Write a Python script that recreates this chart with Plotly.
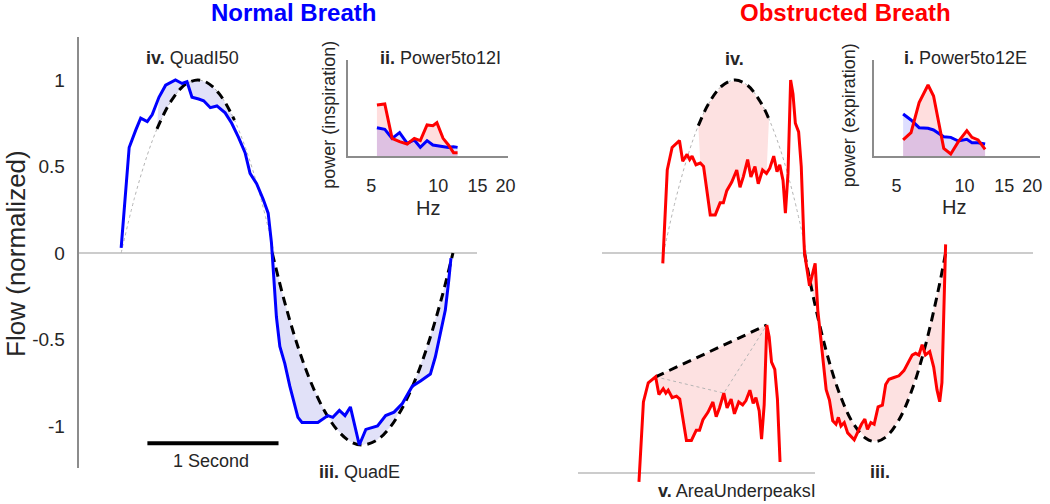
import plotly.graph_objects as go

# ---- normal breath: time (s) and normalized flow ----
normal_t = [0.000, 0.036, 0.061, 0.111, 0.149, 0.199, 0.237, 0.288, 0.339, 0.414, 0.464, 0.502,
            0.540, 0.591, 0.629, 0.680, 0.730, 0.793, 0.843, 0.894, 0.945, 0.983, 1.033, 1.083,
            1.121, 1.146, 1.152, 1.167, 1.184, 1.210, 1.248, 1.286, 1.318, 1.348, 1.379, 1.424,
            1.500, 1.576, 1.614, 1.664, 1.707, 1.748, 1.778, 1.816, 1.866, 1.955, 2.017, 2.081,
            2.144, 2.220, 2.283, 2.358, 2.396, 2.434, 2.472, 2.498, 2.515]
normal_flow = [0.03, 0.38, 0.61, 0.71, 0.78, 0.76, 0.80, 0.90, 0.97, 1.00, 0.98, 0.99,
               0.90, 0.89, 0.88, 0.84, 0.85, 0.81, 0.75, 0.67, 0.58, 0.46, 0.40, 0.31,
               0.23, 0.06, 0.00, -0.175, -0.37, -0.54, -0.64, -0.77, -0.87, -0.95, -0.98, -0.98,
               -0.98, -0.94, -0.95, -0.91, -0.94, -0.89, -0.98, -1.11, -1.02, -1.00, -0.94, -0.92,
               -0.87, -0.77, -0.74, -0.70, -0.60, -0.46, -0.33, -0.16, -0.03]

# quadratic fits
normal_insp_fit_t = [0.0, 0.1, 0.2, 0.273, 0.35, 0.4, 0.45, 0.5, 0.583, 0.65, 0.7, 0.75, 0.8, 0.864, 0.95, 1.05, 1.167]
normal_insp_fit = [0.0, 0.314, 0.568, 0.717, 0.840, 0.90, 0.948, 0.98, 1.0, 0.987, 0.96, 0.918, 0.861, 0.768, 0.604, 0.358, 0.0]
normal_insp_dash = (0.273, 0.864)
normal_exp_fit_t = [1.152, 1.25, 1.35, 1.45, 1.55, 1.65, 1.75, 1.841, 1.95, 2.05, 2.15, 2.25, 2.35, 2.45, 2.53]
normal_exp_fit = [0.0, -0.293, -0.546, -0.753, -0.912, -1.025, -1.091, -1.11, -1.082, -1.008, -0.887, -0.719, -0.504, -0.243, 0.0]

# ---- obstructed breath ----
obstructed_t = [0.002, 0.017, 0.036, 0.073, 0.111, 0.129, 0.154, 0.187, 0.207, 0.225, 0.255, 0.288,
                0.313, 0.339, 0.364, 0.402, 0.439, 0.464, 0.490, 0.528, 0.566, 0.591, 0.616, 0.649,
                0.674, 0.705, 0.730, 0.763, 0.793, 0.818, 0.848, 0.873, 0.894, 0.919, 0.937, 0.957,
                0.977, 0.995, 1.013, 1.038, 1.058, 1.078, 1.083, 1.121, 1.164, 1.184, 1.201, 1.222,
                1.248, 1.273, 1.298, 1.323, 1.341, 1.361, 1.386, 1.412, 1.462, 1.492, 1.517, 1.543,
                1.563, 1.589, 1.614, 1.644, 1.677, 1.702, 1.727, 1.765, 1.803, 1.841, 1.879, 1.904,
                1.930, 1.955, 1.980, 2.005, 2.038, 2.068, 2.093, 2.114, 2.131, 2.144, 2.152, 2.159]
obstructed_flow = [-0.06, 0.21, 0.48, 0.61, 0.64, 0.65, 0.53, 0.57, 0.54, 0.56, 0.51, 0.52,
                   0.50, 0.36, 0.22, 0.22, 0.29, 0.29, 0.36, 0.41, 0.48, 0.38, 0.44, 0.54,
                   0.44, 0.50, 0.40, 0.48, 0.46, 0.49, 0.56, 0.47, 0.51, 0.42, 0.23, 0.46,
                   1.00, 0.92, 0.75, 0.70, 0.50, 0.075, 0.00, -0.19, -0.06, -0.33, -0.45, -0.60,
                   -0.79, -0.85, -0.97, -0.99, -0.95, -1.00, -0.98, -1.04, -1.08, -1.03, -0.99, -0.96,
                   -1.02, -0.98, -0.99, -0.89, -0.88, -0.76, -0.73, -0.72, -0.71, -0.68, -0.63, -0.59,
                   -0.58, -0.59, -0.53, -0.59, -0.57, -0.66, -0.79, -0.86, -0.75, -0.41, -0.21, 0.05]
obstructed_insp_end = 1.08

obs_insp_fit_t = [0.008, 0.1, 0.2, 0.273, 0.35, 0.45, 0.553, 0.65, 0.75, 0.812, 0.9, 1.0, 1.098]
obs_insp_fit = [0.0, 0.309, 0.580, 0.736, 0.861, 0.964, 1.0, 0.968, 0.869, 0.774, 0.595, 0.327, 0.0]
obs_insp_dash = (0.273, 0.812)
obs_exp_fit_t = [1.083, 1.15, 1.25, 1.35, 1.45, 1.55, 1.621, 1.7, 1.8, 1.9, 2.0, 2.1, 2.159]
obs_exp_fit = [0.0, -0.255, -0.571, -0.813, -0.980, -1.071, -1.09, -1.066, -0.969, -0.797, -0.549, -0.226, 0.0]

# peaks used for AreaUnderpeaksI
peak_t = [0.129, 0.977]
peak_flow = [0.65, 1.00]
hull_t = [0.129, 0.649, 0.977]
hull_flow = [0.65, 0.54, 1.00]

# ---- power spectra ----
freq_insp = [5.3, 5.75, 6.2, 6.7, 7.25, 7.8, 8.3, 8.9, 9.45, 9.85, 10.5, 11.1, 11.7, 12.2]
pow_insp_normal = [0.295, 0.278, 0.184, 0.243, 0.132, 0.167, 0.090, 0.160, 0.115, 0.108, 0.097, 0.090, 0.097, 0.090]
pow_insp_obstructed = [0.531, 0.542, 0.184, 0.149, 0.125, 0.184, 0.160, 0.323, 0.316, 0.347, 0.184, 0.115, 0.035, 0.035]
freq_exp = [5.35, 5.8, 6.3, 6.9, 7.3, 8.1, 8.7, 9.4, 10.25, 10.8, 11.5, 12.35]
pow_exp_normal = [0.438, 0.375, 0.295, 0.288, 0.271, 0.201, 0.194, 0.156, 0.174, 0.139, 0.139, 0.125]
pow_exp_obstructed = [0.167, 0.243, 0.556, 0.740, 0.625, 0.080, 0.021, 0.149, 0.264, 0.194, 0.167, 0.069]
hz_ticks = [5, 10, 15, 20]

scalebar_start = 0.2
scalebar_len = 1.0
scalebar_flow = -1.10

BLUE = "#0000ff"
RED = "#ff0000"
BLUE_FILL = "#e1e1f8"
RED_FILL = "#fde1e1"
TXT = "#262626"
FONT = "Liberation Sans"
W, H = 1050, 504


def px(x):
    return x / W


def py(y):
    return (H - y) / H


def within(t, v, t0, t1):
    pts = [(a, b) for a, b in zip(t, v) if t0 <= a <= t1]
    return [p[0] for p in pts], [p[1] for p in pts]


def band(t, v, fit_t, fit_v, t0, t1):
    xs, ys = within(t, v, t0, t1)
    fx, fy = within(fit_t, fit_v, t0, t1)
    return xs + fx[::-1], ys + fy[::-1]


fig = go.Figure()


def line(x, y, color, width, axes, dash=None, shape="linear"):
    fig.add_trace(go.Scatter(x=x, y=y, mode="lines", xaxis=axes[0], yaxis=axes[1],
                             line=dict(color=color, width=width, dash=dash, shape=shape),
                             hoverinfo="skip"))


def area(x, y, color, axes, fill="toself"):
    fig.add_trace(go.Scatter(x=x, y=y, mode="lines", fill=fill, fillcolor=color,
                             xaxis=axes[0], yaxis=axes[1], line=dict(width=0),
                             hoverinfo="skip"))


DASH = "9px,6px"

# normal breath panel
ax1 = ("x", "y")
bx, by = band(normal_t, normal_flow, normal_insp_fit_t, normal_insp_fit, *normal_insp_dash)
area(bx, by, BLUE_FILL, ax1)
bx, by = band(normal_t, normal_flow, normal_exp_fit_t, normal_exp_fit, normal_exp_fit_t[0], normal_exp_fit_t[-1])
area(bx, by, BLUE_FILL, ax1)
line(normal_insp_fit_t, normal_insp_fit, "#b4b4b4", 1, ax1, dash="dot", shape="spline")
dx, dy = within(normal_insp_fit_t, normal_insp_fit, *normal_insp_dash)
line(dx, dy, "black", 3, ax1, dash=DASH, shape="spline")
line(normal_exp_fit_t, normal_exp_fit, "black", 3, ax1, dash=DASH, shape="spline")
line(normal_t, normal_flow, BLUE, 3, ax1)
line([scalebar_start, scalebar_start + scalebar_len], [scalebar_flow, scalebar_flow], "black", 4, ax1)

# obstructed breath panel
ax2 = ("x2", "y2")
bx, by = band(obstructed_t, obstructed_flow, obs_insp_fit_t, obs_insp_fit, *obs_insp_dash)
area(bx, by, RED_FILL, ax2)
bx, by = band(obstructed_t, obstructed_flow, obs_exp_fit_t, obs_exp_fit, obs_exp_fit_t[0], obs_exp_fit_t[-1])
area(bx, by, RED_FILL, ax2)
line(obs_insp_fit_t, obs_insp_fit, "#b4b4b4", 1, ax2, dash="dot", shape="spline")
dx, dy = within(obs_insp_fit_t, obs_insp_fit, *obs_insp_dash)
line(dx, dy, "black", 3, ax2, dash=DASH, shape="spline")
line(obs_exp_fit_t, obs_exp_fit, "black", 3, ax2, dash=DASH, shape="spline")
line(obstructed_t, obstructed_flow, RED, 3, ax2)

# AreaUnderpeaksI copy of the obstructed inspiration
ax3 = ("x3", "y3")
ct, cf = within(obstructed_t, obstructed_flow, 0, obstructed_insp_end)
bx, by = band(ct, cf, peak_t, peak_flow, peak_t[0], peak_t[-1])
area(bx, by, RED_FILL, ax3)
line(hull_t, hull_flow, "#b4b4b4", 1, ax3, dash="dot")
line(peak_t, peak_flow, "black", 3, ax3, dash=DASH)
line(ct, cf, RED, 3, ax3)

# power spectra insets
for axes, f, pn, po in [(("x4", "y4"), freq_insp, pow_insp_normal, pow_insp_obstructed),
                        (("x5", "y5"), freq_exp, pow_exp_normal, pow_exp_obstructed)]:
    area(f, po, "rgba(255,0,0,0.13)", axes, fill="tozeroy")
    area(f, pn, "rgba(0,0,255,0.13)", axes, fill="tozeroy")
    line(f, pn, BLUE, 3, axes)
    line(f, po, RED, 3, axes)

hidden_x = dict(visible=False, showgrid=False, zeroline=False)
flow_range = [-1.243, 1.2486]
flow_domain = [py(468), py(37)]
plain_y = dict(showgrid=False, showline=False, showticklabels=False, ticks="",
               zeroline=True, zerolinecolor="#cccccc", zerolinewidth=1.5)
inset_x = dict(type="log", tickvals=hz_ticks, ticktext=[str(v) for v in hz_ticks],
               showline=True, linecolor="#8c8c8c", linewidth=1.5, showgrid=False, zeroline=False,
               ticks="outside", ticklen=13, tickcolor="rgba(0,0,0,0)",
               tickfont=dict(family=FONT, size=18, color=TXT))
inset_y = dict(range=[0, 1], domain=[py(156), py(60)], showline=True, linecolor="#8c8c8c",
               linewidth=1.5, showgrid=False, zeroline=False, showticklabels=False, ticks="")

fig.update_layout(
    width=W, height=H, margin=dict(l=0, r=0, t=0, b=0),
    paper_bgcolor="white", plot_bgcolor="rgba(0,0,0,0)", showlegend=False,
    xaxis=dict(hidden_x, domain=[px(80), px(480)], range=[-0.318, 2.712]),
    yaxis=dict(domain=flow_domain, range=flow_range, anchor="x",
               tickvals=[-1, -0.5, 0, 0.5, 1], ticktext=["-1", "-0.5", "0", "0.5", "1"],
               tickfont=dict(family=FONT, size=19, color=TXT),
               ticks="outside", ticklen=9, tickcolor="rgba(0,0,0,0)",
               showline=True, linecolor="#8c8c8c", linewidth=1.5, showgrid=False,
               zeroline=True, zerolinecolor="#cccccc", zerolinewidth=1.5),
    xaxis2=dict(hidden_x, domain=[px(606), px(1040)], range=[-0.462, 2.826], anchor="y2"),
    yaxis2=dict(plain_y, domain=flow_domain, range=flow_range, anchor="x2"),
    xaxis3=dict(hidden_x, domain=[px(582), px(820)], range=[-0.462, 1.341], anchor="y3"),
    yaxis3=dict(plain_y, domain=[py(500), py(300)], range=[-0.182, 1.169], anchor="x3"),
    xaxis4=dict(inset_x, domain=[px(350), px(511.7)], range=[0.593, 1.314], anchor="y4"),
    yaxis4=dict(inset_y, anchor="x4"),
    xaxis5=dict(inset_x, domain=[px(880), px(1047)], range=[0.600, 1.335], anchor="y5"),
    yaxis5=dict(inset_y, anchor="x5"),
)


def label(text, x, y, size=18, color=TXT, angle=0):
    fig.add_annotation(text=text, x=px(x), y=py(y), xref="paper", yref="paper",
                       xanchor="center", yanchor="middle", showarrow=False, textangle=angle,
                       font=dict(family=FONT, size=size, color=color))


label("<b>Normal Breath</b>", 295, 12, size=24, color=BLUE)
label("<b>Obstructed Breath</b>", 851, 12, size=24, color=RED)
label("Flow (normalized)", 16, 253, size=26, angle=-90)
label("<b>iv.</b> QuadI50", 194, 58)
label("<b>iii.</b> QuadE", 362, 472)
label("1 Second", 212, 461)
label("<b>ii.</b> Power5to12I", 443, 58)
label("<b>i.</b> Power5to12E", 972, 58)
label("power (inspiration)", 331, 115, angle=-90)
label("power (expiration)", 855, 115, angle=-90)
label("Hz", 431, 208, size=20)
label("Hz", 960, 207, size=20)
label("<b>iv.</b>", 739, 59)
label("<b>iii.</b>", 886, 472)
label("<b>v.</b> AreaUnderpeaksI", 742, 491)

# page body has a default 8px margin; drop it so the figure sits at the window origin
fig.write_html("out.html", config={"displayModeBar": False},
               post_script="document.body.style.margin='0';"
                           "document.documentElement.style.overflow='hidden';")
